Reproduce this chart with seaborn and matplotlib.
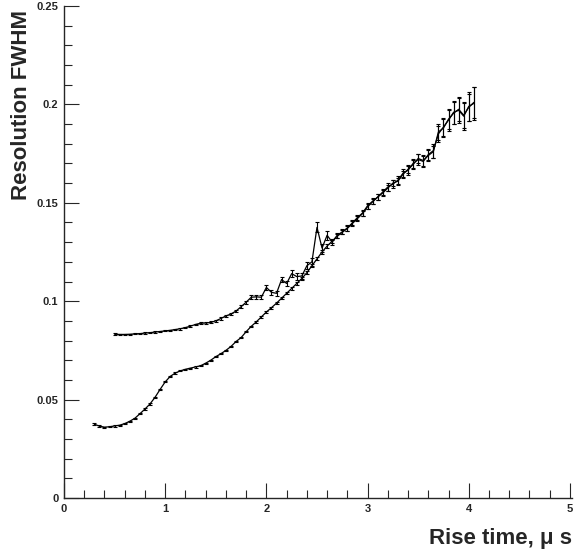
import numpy as np
import matplotlib
matplotlib.use('Agg')
import matplotlib.pyplot as plt
import seaborn as sns
from matplotlib.ticker import MultipleLocator

# Lower curve: bins 0.30 .. 4.05, step 0.05
x_low = np.round(np.arange(0.30, 4.051, 0.05), 2)
res_low = [0.0375, 0.0365, 0.0360, 0.0362, 0.0366, 0.0370, 0.0378, 0.0390, 0.0405, 0.0428,
           0.0452, 0.0478, 0.0512, 0.0552, 0.0590, 0.0618, 0.0635, 0.0646, 0.0654, 0.0660,
           0.0666, 0.0672, 0.0685, 0.0700, 0.0718, 0.0733, 0.0750, 0.0770, 0.0795, 0.0815,
           0.0845, 0.0872, 0.0895, 0.0920, 0.0945, 0.0967, 0.0990, 0.1015, 0.1040, 0.1065,
           0.1090, 0.1115, 0.1145, 0.1180, 0.1215, 0.1250, 0.1280, 0.1305, 0.1330, 0.1350,
           0.1370, 0.1395, 0.1420, 0.1445, 0.1480, 0.1505, 0.1530, 0.1550, 0.1575, 0.1600,
           0.1610, 0.1645, 0.1670, 0.1695, 0.1725, 0.1715, 0.1740, 0.1760, 0.1860, 0.1880,
           0.1925, 0.1955, 0.1975, 0.1945, 0.1985, 0.2010]
err_low = [0.0006, 0.0004, 0.0003, 0.0003, 0.0003, 0.0003, 0.0003, 0.0003, 0.0003, 0.0003,
           0.0003, 0.0003, 0.0003, 0.0003, 0.0003, 0.0003, 0.0003, 0.0003, 0.0003, 0.0003,
           0.0003, 0.0003, 0.0003, 0.0003, 0.0003, 0.0003, 0.0004, 0.0004, 0.0004, 0.0004,
           0.0004, 0.0004, 0.0005, 0.0005, 0.0005, 0.0005, 0.0006, 0.0006, 0.0006, 0.0006,
           0.0007, 0.0007, 0.0007, 0.0008, 0.0008, 0.0008, 0.0009, 0.0009, 0.0010, 0.0010,
           0.0011, 0.0011, 0.0012, 0.0012, 0.0013, 0.0013, 0.0014, 0.0015, 0.0016, 0.0017,
           0.0018, 0.0019, 0.0020, 0.0022, 0.0024, 0.0026, 0.0028, 0.0030, 0.0040, 0.0045,
           0.0050, 0.0055, 0.0060, 0.0065, 0.0070, 0.0080]

# Upper curve: bins 0.50 .. 4.05, step 0.05
x_up = np.round(np.arange(0.50, 4.051, 0.05), 2)
res_up = [0.0832, 0.0831, 0.0831, 0.0832, 0.0834, 0.0835, 0.0838, 0.0840, 0.0843, 0.0846,
          0.0849, 0.0852, 0.0856, 0.0860, 0.0866, 0.0873, 0.0882, 0.0888, 0.0889, 0.0892,
          0.0900, 0.0912, 0.0925, 0.0935, 0.0950, 0.0972, 0.0995, 0.1020, 0.1022, 0.1020,
          0.1070, 0.1045, 0.1040, 0.1110, 0.1090, 0.1140, 0.1125, 0.1128, 0.1180, 0.1200,
          0.1375, 0.1270, 0.1335, 0.1300, 0.1335, 0.1352, 0.1372, 0.1398, 0.1425, 0.1448,
          0.1485, 0.1508, 0.1528, 0.1555, 0.1580, 0.1595, 0.1615, 0.1650, 0.1665, 0.1700,
          0.1720, 0.1710, 0.1745, 0.1765, 0.1850, 0.1885, 0.1920, 0.1960, 0.1970, 0.1940,
          0.1990, 0.2005]
err_up = [0.0004, 0.0003, 0.0003, 0.0003, 0.0003, 0.0003, 0.0003, 0.0003, 0.0003, 0.0003,
          0.0003, 0.0003, 0.0003, 0.0004, 0.0004, 0.0004, 0.0004, 0.0005, 0.0005, 0.0005,
          0.0005, 0.0006, 0.0006, 0.0007, 0.0007, 0.0008, 0.0008, 0.0009, 0.0010, 0.0011,
          0.0012, 0.0012, 0.0013, 0.0014, 0.0015, 0.0016, 0.0016, 0.0017, 0.0018, 0.0019,
          0.0025, 0.0022, 0.0022, 0.0012, 0.0012, 0.0013, 0.0013, 0.0013, 0.0014, 0.0014,
          0.0015, 0.0015, 0.0016, 0.0017, 0.0018, 0.0019, 0.0020, 0.0021, 0.0022, 0.0024,
          0.0026, 0.0028, 0.0030, 0.0035, 0.0042, 0.0048, 0.0053, 0.0058, 0.0063, 0.0068,
          0.0075, 0.0085]

sns.set_style('ticks')
plt.rcParams['font.family'] = ['Liberation Sans', 'DejaVu Sans']
plt.rcParams['font.weight'] = 'bold'

fig = plt.figure(figsize=(5.83, 5.54), dpi=100)
ax = fig.add_axes([0.1098, 0.1011, 0.8713, 0.8881])

for xs, ys, es in [(x_low, res_low, err_low), (x_up, res_up, err_up)]:
    sns.lineplot(x=xs, y=ys, ax=ax, color='black', linewidth=0.9)
    ax.errorbar(xs, ys, yerr=es, fmt='none', ecolor='black', elinewidth=0.8,
                capsize=1.5, capthick=0.8)

ax.set_xlim(0, 5.02)
ax.set_ylim(0, 0.25)
sns.despine(ax=ax)
ax.spines['left'].set_linewidth(1.0)
ax.spines['bottom'].set_linewidth(1.0)

ax.xaxis.set_major_locator(MultipleLocator(1))
ax.xaxis.set_minor_locator(MultipleLocator(0.2))
ax.yaxis.set_minor_locator(MultipleLocator(0.01))
ax.set_yticks([0, 0.05, 0.1, 0.15, 0.2, 0.25])
ax.set_yticklabels(['0', '0.05', '0.1', '0.15', '0.2', '0.25'])
ax.tick_params(which='major', direction='in', length=11, width=0.8,
               labelsize=8, pad=4)
ax.tick_params(which='minor', direction='in', length=5.5, width=0.8)
for lbl in ax.get_xticklabels() + ax.get_yticklabels():
    lbl.set_fontweight('bold')

ax.set_xlabel('Rise time, \u03bc s', fontsize=16, fontweight='bold', loc='right')
ax.xaxis.set_label_coords(1.0, -0.06)
ax.xaxis.label.set_verticalalignment('top')
ax.set_ylabel('Resolution FWHM', fontsize=16, fontweight='bold', loc='top')
ax.yaxis.set_label_coords(-0.063, 0.992)

fig.savefig('out.png', dpi=100)
